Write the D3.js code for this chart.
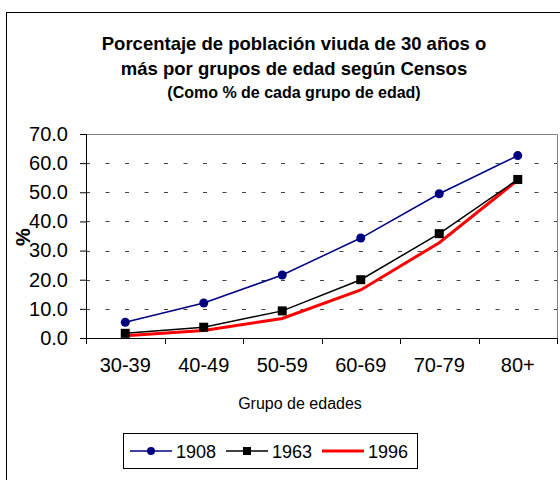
<!DOCTYPE html>
<html>
<head>
<meta charset="utf-8">
<script src="https://d3js.org/d3.v7.min.js"></script>
<style>
  body { margin: 0; background: #fff; }
  text { font-family: "Liberation Sans", Arial, sans-serif; }
</style>
</head>
<body>
<svg id="chart" width="560" height="480"></svg>
<script>
// data
var grupos = ["30-39", "40-49", "50-59", "60-69", "70-79", "80+"];
var v1908 = [5.4, 12.0, 21.6, 34.3, 49.5, 62.6];
var v1963 = [1.6, 3.7, 9.3, 20.0, 35.8, 54.4];
var v1996 = [0.8, 2.6, 6.7, 16.5, 32.7, 54.2];
var yTicks = [0, 10, 20, 30, 40, 50, 60, 70];

function draw() {
  var svg = d3.select("#chart");
  var pLeft = 86, pRight = 557, pTop = 134, pBottom = 338;

  // chart border (runs off the picture at right and bottom)
  svg.append("rect").attr("x", 6.5).attr("y", 12.5).attr("width", 600).attr("height", 520)
    .attr("fill", "none").attr("stroke", "#000").attr("stroke-width", 1);

  var x = d3.scaleBand().domain(grupos).range([pLeft, pRight]);
  var y = d3.scaleLinear().domain([0, 70]).range([pBottom, pTop]);
  function cx(d, i) { return x(grupos[i]) + x.bandwidth() / 2; }

  // titles
  svg.append("text").attr("x", 294).attr("y", 50).attr("text-anchor", "middle")
    .attr("font-size", "18.5px").attr("font-weight", "bold")
    .text("Porcentaje de población viuda de 30 años o");
  svg.append("text").attr("x", 294).attr("y", 75).attr("text-anchor", "middle")
    .attr("font-size", "18.5px").attr("font-weight", "bold")
    .text("más por grupos de edad según Censos");
  svg.append("text").attr("x", 294).attr("y", 98).attr("text-anchor", "middle")
    .attr("font-size", "16px").attr("font-weight", "bold")
    .text("(Como % de cada grupo de edad)");

  // plot frame top/right
  svg.append("path")
    .attr("d", "M" + pLeft + "," + (pTop + 0.5) + "H" + (pRight + 0.5) + "V" + pBottom)
    .attr("fill", "none").attr("stroke", "#808080").attr("stroke-width", 1);

  // dashed grid
  svg.append("g").selectAll("line").data(yTicks.filter(function(d) { return d > 0 && d < 70; }))
    .enter().append("line")
    .attr("x1", pLeft).attr("x2", pRight)
    .attr("y1", function(d) { return Math.round(y(d)) + 0.5; })
    .attr("y2", function(d) { return Math.round(y(d)) + 0.5; })
    .attr("stroke", "#444").attr("stroke-width", 1).attr("stroke-dasharray", "4,15.5");

  // y axis
  var yAxis = svg.append("g").attr("transform", "translate(" + pLeft + ",0)")
    .call(d3.axisLeft(y).tickValues(yTicks).tickFormat(d3.format(".1f")).tickSizeOuter(0).tickSize(6).tickPadding(12));
  yAxis.select(".domain").attr("stroke", "#000");
  yAxis.selectAll("text").attr("font-size", "20px").attr("fill", "#000")
    .style("font-family", "'Liberation Sans', Arial, sans-serif");

  // x axis: labels centered, ticks at band edges
  var xAxis = svg.append("g").attr("transform", "translate(0," + pBottom + ")")
    .call(d3.axisBottom(x).tickSize(0).tickSizeOuter(0).tickPadding(20));
  xAxis.select(".domain").attr("stroke", "#000");
  xAxis.selectAll("text").attr("font-size", "20px").attr("fill", "#000")
    .style("font-family", "'Liberation Sans', Arial, sans-serif");
  var edges = grupos.map(function(g) { return x(g); }).concat([pRight]);
  xAxis.selectAll("line.edge").data(edges).enter().append("line").attr("class", "edge")
    .attr("x1", function(d) { return Math.round(d) + 0.5; })
    .attr("x2", function(d) { return Math.round(d) + 0.5; })
    .attr("y1", 0).attr("y2", 6).attr("stroke", "#000");

  // axis titles
  svg.append("text").attr("x", 300).attr("y", 409).attr("text-anchor", "middle")
    .attr("font-size", "16px").text("Grupo de edades");
  svg.append("text").attr("transform", "translate(30,237) rotate(-90)").attr("text-anchor", "middle")
    .attr("font-size", "20px").attr("font-weight", "bold").text("%");

  // lines
  var line = d3.line().x(cx).y(function(d) { return y(d); });
  svg.append("path").datum(v1996).attr("d", line).attr("fill", "none")
    .attr("stroke", "#ff0000").attr("stroke-width", 3);
  svg.append("path").datum(v1963).attr("d", line).attr("fill", "none")
    .attr("stroke", "#000").attr("stroke-width", 1.5);
  svg.append("path").datum(v1908).attr("d", line).attr("fill", "none")
    .attr("stroke", "#000080").attr("stroke-width", 1.5);

  svg.append("g").selectAll("rect").data(v1963).enter().append("rect")
    .attr("x", function(d, i) { return cx(d, i) - 4.5; })
    .attr("y", function(d) { return y(d) - 4.5; })
    .attr("width", 9).attr("height", 9).attr("fill", "#000");
  svg.append("g").selectAll("circle").data(v1908).enter().append("circle")
    .attr("cx", cx).attr("cy", function(d) { return y(d); })
    .attr("r", 4.5).attr("fill", "#000080");

  // legend
  var lg = svg.append("g");
  lg.append("rect").attr("x", 123.5).attr("y", 433.5).attr("width", 294).attr("height", 35)
    .attr("fill", "#fff").attr("stroke", "#000");
  var leg = [
    { name: "1908", color: "#000080", w: 1.5, mark: "circle" },
    { name: "1963", color: "#000", w: 1.5, mark: "square" },
    { name: "1996", color: "#ff0000", w: 3, mark: "none" }
  ];
  var legX = [130, 226, 322];
  leg.forEach(function(d, i) {
    var lx = legX[i], ly = 451;
    lg.append("line").attr("x1", lx).attr("x2", lx + 42).attr("y1", ly).attr("y2", ly)
      .attr("stroke", d.color).attr("stroke-width", d.w);
    if (d.mark === "circle") {
      lg.append("circle").attr("cx", lx + 21).attr("cy", ly).attr("r", 4).attr("fill", d.color);
    } else if (d.mark === "square") {
      lg.append("rect").attr("x", lx + 17).attr("y", ly - 4).attr("width", 8).attr("height", 8).attr("fill", d.color);
    }
    lg.append("text").attr("x", lx + 46).attr("y", ly + 7).attr("font-size", "18px").text(d.name);
  });
}
draw();
</script>
</body>
</html>
